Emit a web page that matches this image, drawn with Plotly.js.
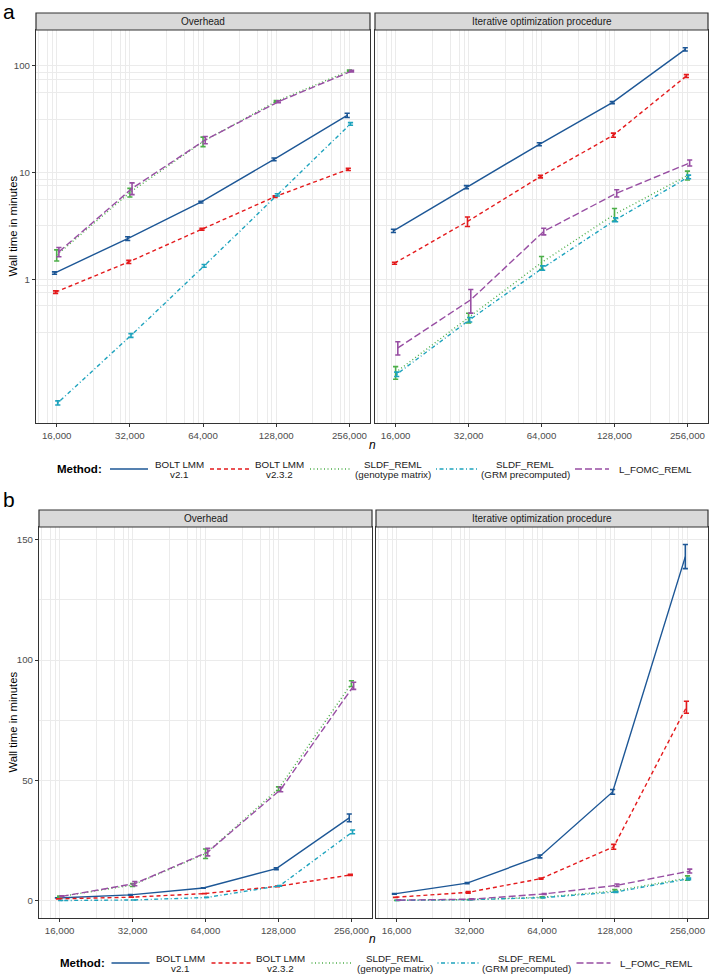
<!DOCTYPE html>
<html><head><meta charset="utf-8">
<script src="https://cdn.plot.ly/plotly-3.0.1.min.js"></script>
<style>html,body{margin:0;padding:0;background:#fff}#chart{width:709px;height:975px}</style>
</head><body><div id="chart"></div>
<script>
// ---------------- data ----------------
const sampleSizes = [16000, 32000, 64000, 128000, 256000];
const xTickLabels = ['16,000', '32,000', '64,000', '128,000', '256,000'];
const logYTicks = [1, 10, 100];
const linYTicks = [0, 50, 100, 150];
const panelNames = ['Overhead', 'Iterative optimization procedure'];

const methodNames = ['BOLT LMM v2.1', 'BOLT LMM v2.3.2', 'SLDF_REML (genotype matrix)', 'SLDF_REML (GRM precomputed)', 'L_FOMC_REML'];
const legendLines = [['BOLT LMM', 'v2.1'], ['BOLT LMM', 'v2.3.2'], ['SLDF_REML', '(genotype matrix)'], ['SLDF_REML', '(GRM precomputed)'], ['L_FOMC_REML']];
const methodColors = ['#1d5796', '#e41a1c', '#4daf4a', '#1ea3bd', '#984ea3'];
const methodDash = ['solid', '4px,3px', '1px,2.5px', '1px,2.5px,4px,2.5px', '7px,3px'];

// wall time in minutes — Overhead
const overheadBolt21   = [1.14, 2.40, 5.27, 13.3, 34.4];
const overheadBolt232  = [0.755, 1.45, 2.94, 5.94, 10.7];
const overheadSldfGeno = [1.68, 6.5, 19.5, 46.5, 90.2];
const overheadSldfGrm  = [0.069, 0.296, 1.33, 6.17, 28.6];
const overheadLfomc    = [1.80, 7.1, 20.2, 46.2, 89.3];
const overheadBolt21Err   = [0.03, 0.10, 0.10, 0.40, 1.6];
const overheadBolt232Err  = [0.02, 0.05, 0.06, 0.10, 0.25];
const overheadSldfGenoErr = [0.20, 0.6, 2.0, 0.8, 1.2];
const overheadSldfGrmErr  = [0.003, 0.012, 0.04, 0.15, 0.8];
const overheadLfomcErr    = [0.18, 0.9, 1.6, 0.9, 1.5];

// wall time in minutes — Iterative optimization procedure
const iterBolt21   = [2.84, 7.28, 18.4, 45.2, 143];
const iterBolt232  = [1.41, 3.47, 9.16, 22.4, 80.4];
const iterSldfGeno = [0.133, 0.433, 1.43, 4.05, 9.4];
const iterSldfGrm  = [0.128, 0.416, 1.27, 3.6, 9.1];
const iterLfomc    = [0.226, 0.64, 2.80, 6.4, 12.3];
const iterBolt21Err   = [0.1, 0.25, 0.6, 1.0, 5.0];
const iterBolt232Err  = [0.03, 0.35, 0.25, 1.0, 2.5];
const iterSldfGenoErr = [0.018, 0.045, 0.2, 0.55, 0.9];
const iterSldfGrmErr  = [0.006, 0.02, 0.06, 0.15, 0.35];
const iterLfomcErr    = [0.032, 0.16, 0.2, 0.5, 0.8];

const overheadValues = [overheadBolt21, overheadBolt232, overheadSldfGeno, overheadSldfGrm, overheadLfomc];
const overheadErrors = [overheadBolt21Err, overheadBolt232Err, overheadSldfGenoErr, overheadSldfGrmErr, overheadLfomcErr];
const iterValues = [iterBolt21, iterBolt232, iterSldfGeno, iterSldfGrm, iterLfomc];
const iterErrors = [iterBolt21Err, iterBolt232Err, iterSldfGenoErr, iterSldfGrmErr, iterLfomcErr];

// ---------------- layout helpers ----------------
const W = 709, H = 975;
const px = v => v / W;
const py = v => 1 - v / H;
const FONT = 'Liberation Sans, Arial, Helvetica, sans-serif';
const GRID = '#ebebeb';
const BORDER = '#333333';
const TICKFONT = {family: FONT, size: 9.7, color: '#4d4d4d'};

// dodge (position_dodge on a log axis)
const dodgeStep = 0.015;
const dodged = k => sampleSizes.map(n => n * Math.pow(2, (k - 2) * dodgeStep));

// minor grid: ggplot-like breaks below each major
const minorFracs = [1/2, 1/4, 1/8, 1/16];
const xMinor = [];
sampleSizes.forEach(m => minorFracs.forEach(f => xMinor.push(m / Math.pow(2, f))));
const yMinorLog = [];
logYTicks.forEach(m => minorFracs.forEach(f => yMinorLog.push(m / Math.pow(10, f))));
const yMinorLin = [];
for (let i = 0; i < linYTicks.length - 1; i++) yMinorLin.push((linYTicks[i] + linYTicks[i + 1]) / 2);

function xAxis(domain, anchor) {
  return {
    domain: domain, anchor: anchor, type: 'log', range: [4.119, 5.493],
    tickmode: 'array', tickvals: sampleSizes, ticktext: xTickLabels,
    tickfont: TICKFONT,
    ticks: 'outside', ticklen: 3, tickcolor: BORDER, tickwidth: 1,
    showgrid: true, gridcolor: GRID, gridwidth: 1,
    minor: {tickmode: 'array', tickvals: xMinor, showgrid: true, gridcolor: GRID, gridwidth: 0.7, ticklen: 0},
    showline: true, mirror: true, linecolor: BORDER, linewidth: 1.2,
    zeroline: false, fixedrange: true
  };
}
function yAxisLog(domain, anchor, labels) {
  return {
    domain: domain, anchor: anchor, type: 'log', range: [-1.35, 2.337],
    tickmode: 'array', tickvals: logYTicks, ticktext: logYTicks.map(String),
    showticklabels: labels, ticks: labels ? 'outside' : '', ticklen: 3, tickcolor: BORDER,
    tickfont: TICKFONT,
    showgrid: true, gridcolor: GRID, gridwidth: 1,
    minor: {tickmode: 'array', tickvals: yMinorLog, showgrid: true, gridcolor: GRID, gridwidth: 0.7, ticklen: 0},
    showline: true, mirror: true, linecolor: BORDER, linewidth: 1.2,
    zeroline: false, fixedrange: true
  };
}
function yAxisLin(domain, anchor, labels) {
  return {
    domain: domain, anchor: anchor, type: 'linear', range: [-7.2, 155.3],
    tickmode: 'array', tickvals: linYTicks, ticktext: linYTicks.map(String),
    showticklabels: labels, ticks: labels ? 'outside' : '', ticklen: 3, tickcolor: BORDER,
    tickfont: TICKFONT,
    showgrid: true, gridcolor: GRID, gridwidth: 1,
    minor: {tickmode: 'array', tickvals: yMinorLin, showgrid: true, gridcolor: GRID, gridwidth: 0.7, ticklen: 0},
    showline: true, mirror: true, linecolor: BORDER, linewidth: 1.2,
    zeroline: false, fixedrange: true
  };
}

// ---------------- traces ----------------
const panels = [
  {xa: 'x',  ya: 'y',  vals: overheadValues, errs: overheadErrors},
  {xa: 'x2', ya: 'y2', vals: iterValues,     errs: iterErrors},
  {xa: 'x3', ya: 'y3', vals: overheadValues, errs: overheadErrors},
  {xa: 'x4', ya: 'y4', vals: iterValues,     errs: iterErrors}
];
const traces = [];
panels.forEach(p => {
  methodNames.forEach((name, k) => {
    traces.push({
      type: 'scatter', mode: 'lines', name: name,
      x: dodged(k), y: p.vals[k],
      xaxis: p.xa, yaxis: p.ya,
      line: {color: methodColors[k], width: 1.4, dash: methodDash[k]},
      error_y: {type: 'data', array: p.errs[k], visible: true, color: methodColors[k], thickness: 1.6, width: 2.6},
      showlegend: false,
      hovertemplate: name + '<br>n=%{x:,.0f}<br>%{y} min<extra></extra>'
    });
  });
});

// ---------------- layout ----------------
const aLeft = [px(36), px(370)], aRight = [px(375), px(708)];
const bLeft = [px(39), px(372)], bRight = [px(376), px(708)];
const aY = [py(423), py(30)], bY = [py(918), py(527)];

const strips = [
  {x: aLeft, y: [py(30), py(13)], t: panelNames[0]},
  {x: aRight, y: [py(30), py(13)], t: panelNames[1]},
  {x: bLeft, y: [py(527), py(510)], t: panelNames[0]},
  {x: bRight, y: [py(527), py(510)], t: panelNames[1]}
];
const shapes = strips.map(s => ({
  type: 'rect', xref: 'paper', yref: 'paper', x0: s.x[0], x1: s.x[1], y0: s.y[0], y1: s.y[1],
  fillcolor: '#d9d9d9', line: {color: BORDER, width: 1.2}, layer: 'above'
}));
const annotations = strips.map(s => ({
  xref: 'paper', yref: 'paper', x: (s.x[0] + s.x[1]) / 2, y: (s.y[0] + s.y[1]) / 2,
  text: s.t, showarrow: false, xanchor: 'center', yanchor: 'middle',
  font: {family: FONT, size: 10, color: '#1a1a1a'}
}));
annotations.push(
  {xref: 'paper', yref: 'paper', x: px(1), y: py(11), text: 'a', showarrow: false, xanchor: 'left', yanchor: 'middle', font: {family: FONT, size: 21, color: '#000'}},
  {xref: 'paper', yref: 'paper', x: px(1), y: py(499), text: 'b', showarrow: false, xanchor: 'left', yanchor: 'middle', font: {family: FONT, size: 21, color: '#000'}},
  {xref: 'paper', yref: 'paper', x: px(12), y: (aY[0] + aY[1]) / 2, text: 'Wall time in minutes', textangle: -90, showarrow: false, xanchor: 'center', yanchor: 'middle', font: {family: FONT, size: 11.3, color: '#000'}},
  {xref: 'paper', yref: 'paper', x: px(12), y: (bY[0] + bY[1]) / 2, text: 'Wall time in minutes', textangle: -90, showarrow: false, xanchor: 'center', yanchor: 'middle', font: {family: FONT, size: 11.3, color: '#000'}},
  {xref: 'paper', yref: 'paper', x: px(372), y: py(445), text: '<i>n</i>', showarrow: false, xanchor: 'center', yanchor: 'middle', font: {family: FONT, size: 12, color: '#000'}},
  {xref: 'paper', yref: 'paper', x: px(373), y: py(939), text: '<i>n</i>', showarrow: false, xanchor: 'center', yanchor: 'middle', font: {family: FONT, size: 12, color: '#000'}}
);

// ---------------- legends (drawn as a ggplot-style key row) ----------------
const keyLineX = [[110, 148], [210, 249], [310, 350], [436, 477], [575, 609]];
const keyTextX = [179, 279, 393, 525, 655];
const legendRows = [{yc: 469, dx: 0, titleX: 55}, {yc: 963, dx: 1.5, titleX: 58}];
const lineGap = 10;
legendRows.forEach(row => {
  annotations.push({
    xref: 'paper', yref: 'paper', x: px(row.titleX), y: py(row.yc), text: '<b>Method:</b>',
    showarrow: false, xanchor: 'left', yanchor: 'middle', font: {family: FONT, size: 11.5, color: '#000'}
  });
  methodNames.forEach((name, k) => {
    shapes.push({
      type: 'line', xref: 'paper', yref: 'paper',
      x0: px(keyLineX[k][0] + row.dx), x1: px(keyLineX[k][1] + row.dx), y0: py(row.yc), y1: py(row.yc),
      line: {color: methodColors[k], width: 1.4, dash: methodDash[k]}
    });
    const lines = legendLines[k];
    lines.forEach((t, j) => {
      const yOff = (j - (lines.length - 1) / 2) * lineGap;
      annotations.push({
        xref: 'paper', yref: 'paper', x: px(keyTextX[k] + row.dx), y: py(row.yc + yOff), text: t,
        showarrow: false, xanchor: 'center', yanchor: 'middle', align: 'center',
        font: {family: FONT, size: 9.8, color: '#1a1a1a'}
      });
    });
  });
});

const layout = {
  width: W, height: H, margin: {l: 0, r: 0, t: 0, b: 0},
  paper_bgcolor: '#ffffff', plot_bgcolor: '#ffffff',
  font: {family: FONT, color: '#1a1a1a'},
  showlegend: false,
  xaxis: xAxis(aLeft, 'y'), yaxis: yAxisLog(aY, 'x', true),
  xaxis2: xAxis(aRight, 'y2'), yaxis2: yAxisLog(aY, 'x2', false),
  xaxis3: xAxis(bLeft, 'y3'), yaxis3: yAxisLin(bY, 'x3', true),
  xaxis4: xAxis(bRight, 'y4'), yaxis4: yAxisLin(bY, 'x4', false),
  shapes: shapes, annotations: annotations,
  hovermode: 'closest'
};

Plotly.newPlot('chart', traces, layout, {displayModeBar: false});
</script>
</body></html>
